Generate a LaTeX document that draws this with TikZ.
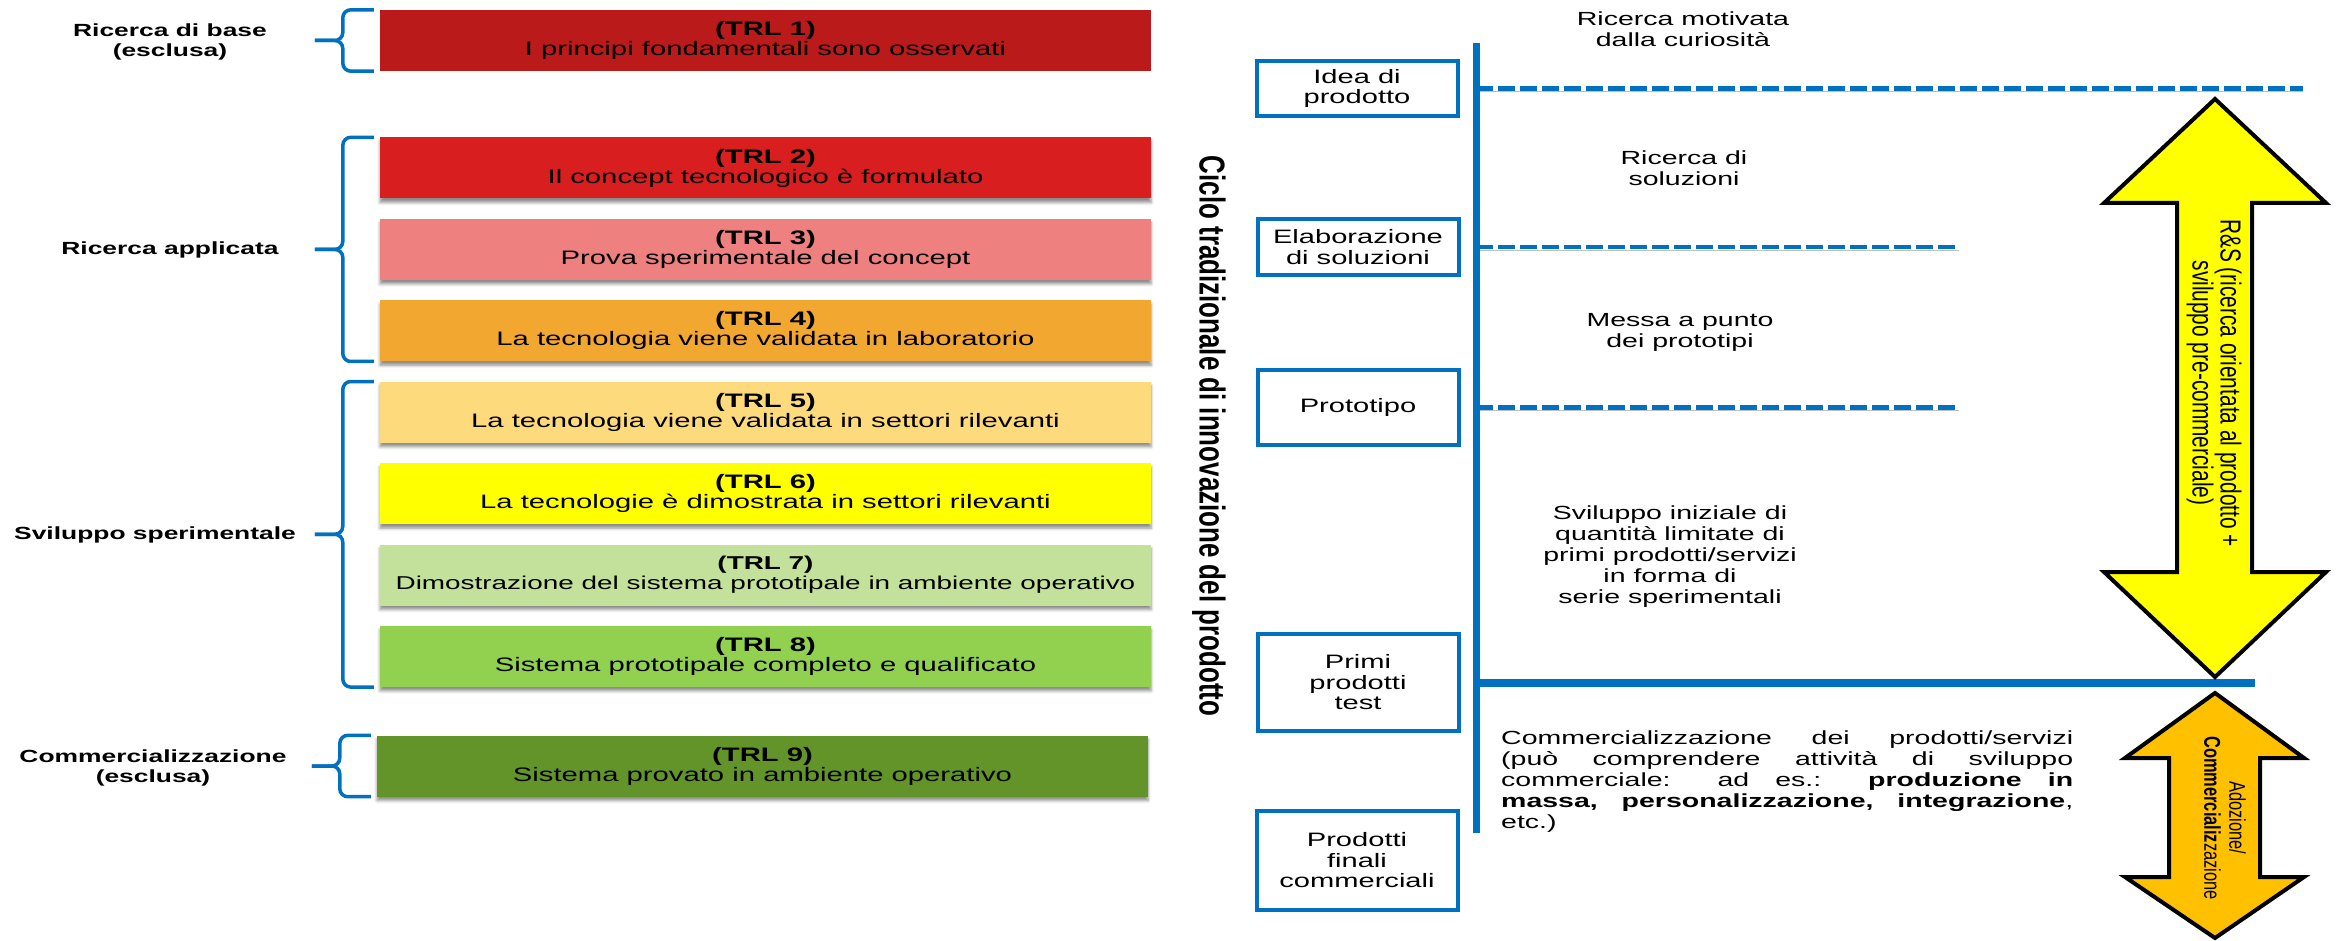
\documentclass[tikz,border=0pt]{standalone}
\usepackage{fontspec}
\setmainfont[FakeStretch=1.5]{Liberation Sans}
\newfontfamily\vertfont[FakeStretch=0.72]{Liberation Sans}
\usetikzlibrary{positioning}
\usetikzlibrary{calc}
\usetikzlibrary{shadows.blur}
\definecolor{trlA}{RGB}{186,26,26}
\definecolor{trlB}{RGB}{216,30,30}
\definecolor{trlC}{RGB}{238,128,128}
\definecolor{trlD}{RGB}{242,168,48}
\definecolor{trlE}{RGB}{253,219,124}
\definecolor{trlF}{RGB}{255,255,0}
\definecolor{trlG}{RGB}{195,225,154}
\definecolor{trlH}{RGB}{146,208,80}
\definecolor{trlI}{RGB}{99,148,42}
\definecolor{bluline}{RGB}{0,112,192}
\definecolor{arrowyellow}{RGB}{255,255,0}
\definecolor{arroworange}{RGB}{255,192,0}
\tikzset{
  trl box/.style={
    rectangle, fill=#1, minimum width=771pt, minimum height=61pt,
    inner sep=0pt, align=center, font=\fontsize{19.5}{20}\selectfont,
  },
  shadowed/.style={
    blur shadow={shadow xshift=0pt, shadow yshift=-4pt, shadow blur radius=3pt, shadow opacity=45},
  },
  bracket/.style={draw=bluline, line width=3.5pt, rounded corners=8pt},
  group label/.style={align=center, font=\bfseries\fontsize{17.6}{20}\selectfont},
  stage/.style={
    draw=bluline, line width=4pt, fill=white, minimum width=201pt,
    inner sep=2pt, align=center, font=\fontsize{19.4}{20.5}\selectfont,
  },
  note/.style={align=center, font=\fontsize{19}{21}\selectfont},
  line shadow/.style={preaction={draw=black!25, transform canvas={yshift=-3pt}}},
  dashline/.style={draw=bluline, line width=4.5pt, dash pattern=on 17pt off 5pt, line shadow},
  solidline/.style={draw=bluline, line width=8pt, line shadow},
  bigarrow/.style={draw=black, line width=4pt, line join=miter},
}

\begin{document}
\begin{tikzpicture}[x=1pt, y=-1pt, node distance=20pt]

  \useasboundingbox (0,0) rectangle (2338,941);

  % TRL levels
  \node[trl box=trlA] (trl1) at (765.5,40.5) {{\bfseries (TRL 1)}\\I principi fondamentali sono osservati};
  \node[trl box=trlB, shadowed] (trl2) at (765.5,168) {{\bfseries (TRL 2)}\\Il concept tecnologico è formulato};
  \node[trl box=trlC, shadowed, below=of trl2] (trl3) {{\bfseries (TRL 3)}\\Prova sperimentale del concept};
  \node[trl box=trlD, shadowed, below=of trl3] (trl4) {{\bfseries (TRL 4)}\\La tecnologia viene validata in laboratorio};
  \node[trl box=trlE, shadowed, below=of trl4] (trl5) {{\bfseries (TRL 5)}\\La tecnologia viene validata in settori rilevanti};
  \node[trl box=trlF, shadowed, below=of trl5] (trl6) {{\bfseries (TRL 6)}\\La tecnologie è dimostrata in settori rilevanti};
  \node[trl box=trlG, shadowed, below=of trl6, font=\fontsize{18.6}{20}\selectfont] (trl7) {{\bfseries (TRL 7)}\\Dimostrazione del sistema prototipale in ambiente operativo};
  \node[trl box=trlH, shadowed, below=of trl7] (trl8) {{\bfseries (TRL 8)}\\Sistema prototipale completo e qualificato};
  \node[trl box=trlI, shadowed] (trl9) at (762.5,766) {{\bfseries (TRL 9)}\\Sistema provato in ambiente operativo};

  % Groups
  \node[group label] (base) at (170,42) {Ricerca di base\\(esclusa)};
  \node[group label] (applicata) at (170,250) {Ricerca applicata};
  \node[group label] (sviluppo) at (155,535) {Sviluppo sperimentale};
  \node[group label] (mercato) at (153,768) {Commercializzazione\\(esclusa)};

  \draw[bracket] ([xshift=-6pt]trl1.north west) -- ++(-31,0) |- ($(trl1.west)+(-65,0)$);
  \draw[bracket] ([xshift=-6pt]trl1.south west) -- ++(-31,0) |- ($(trl1.west)+(-65,0)$);

  \draw[bracket] ([xshift=-6pt]trl2.north west) -- ++(-31,0) |- ($(trl2.north west)!.5!(trl4.south west)+(-65,0)$);
  \draw[bracket] ([xshift=-6pt]trl4.south west) -- ++(-31,0) |- ($(trl2.north west)!.5!(trl4.south west)+(-65,0)$);

  \draw[bracket] ([xshift=-6pt]trl5.north west) -- ++(-31,0) |- ($(trl5.north west)!.5!(trl8.south west)+(-65,0)$);
  \draw[bracket] ([xshift=-6pt]trl8.south west) -- ++(-31,0) |- ($(trl5.north west)!.5!(trl8.south west)+(-65,0)$);

  \draw[bracket] ([xshift=-6pt]trl9.north west) -- ++(-31,0) |- ($(trl9.west)+(-65,0)$);
  \draw[bracket] ([xshift=-6pt]trl9.south west) -- ++(-31,0) |- ($(trl9.west)+(-65,0)$);

  % Innovation cycle
  \node[rotate=-90, font=\vertfont\bfseries\fontsize{36}{40}\selectfont] (ciclo) at (1209,436) {Ciclo tradizionale di innovazione del prodotto};

  \node[stage, minimum height=55pt] (idea) at (1357,88.5) {Idea di\\prodotto};
  \node[stage, minimum height=56pt] (elab) at (1358,247) {Elaborazione\\di soluzioni};
  \node[stage, minimum height=75pt] (proto) at (1358,407.5) {Prototipo};
  \node[stage, minimum height=97pt] (primi) at (1358,682.5) {Primi\\prodotti\\test};
  \node[stage, minimum height=99pt] (finali) at (1357,860.5) {Prodotti\\finali\\commerciali};

  \coordinate (spine top) at (1476,43);
  \coordinate (spine bottom) at (1476,833);
  \coordinate (long end) at (2303,0);
  \coordinate (short end) at (1959,0);
  \coordinate (solid end) at (2255,0);

  \draw[solidline] (primi.east -| spine top) -- (primi.east -| solid end);
  \draw[dashline] (idea.east -| spine top) -- (idea.east -| long end);
  \draw[dashline] (elab.east -| spine top) -- (elab.east -| short end);
  \draw[dashline] (proto.east -| spine top) -- (proto.east -| short end);
  \draw[draw=bluline, line width=7pt] (spine top) -- (spine bottom);

  % Phases
  \node[note] (curiosita) at (1683,29) {Ricerca motivata\\dalla curiosità};
  \node[note] (soluzioni) at (1684,168) {Ricerca di\\soluzioni};
  \node[note] (messa) at (1680,332) {Messa a punto\\dei prototipi};
  \node[note] (iniziale) at (1670,557) {Sviluppo iniziale di\\quantità limitate di\\primi prodotti/servizi\\in forma di\\serie sperimentali};
  \node[note, align=justify, text width=572pt, inner sep=0pt, anchor=north west] (vendita) at (1501,731)
    {Commercializzazione dei prodotti/servizi\linebreak
     (può comprendere attività di sviluppo\linebreak
     commerciale: ad es.: \textbf{produzione in}\linebreak
     \textbf{massa, personalizzazione, integrazione},\linebreak
     etc.)};

  % Arrows
  \draw[bigarrow, fill=arrowyellow] (2215,99) -- (2326,203) -- (2252,203) -- (2252,572) -- (2326,572) -- (2215,677)
    -- (2104,572) -- (2177,572) -- (2177,203) -- (2104,203) -- cycle;
  \node[rotate=-90, align=center, font=\vertfont\fontsize{29}{28}\selectfont] (rs) at (2214,383)
    {R\&S (ricerca orientata al prodotto +\\sviluppo pre-commerciale)};

  \draw[bigarrow, fill=arroworange] (2215,693) -- (2304,758) -- (2260,758) -- (2260,877) -- (2304,877) -- (2215,938)
    -- (2125,877) -- (2169,877) -- (2169,758) -- (2125,758) -- cycle;
  \node[rotate=-90, align=center, font=\vertfont\fontsize{22.8}{25}\selectfont] (adozione) at (2225,818)
    {Adozione/\\\textbf{Commercializ}zazione};

\end{tikzpicture}
\end{document}
